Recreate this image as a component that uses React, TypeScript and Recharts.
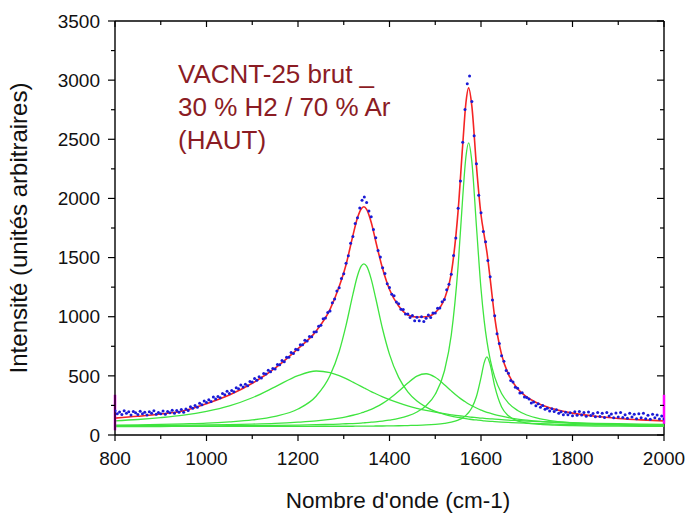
import { ComposedChart, Line, Scatter, XAxis, YAxis, ReferenceLine } from 'recharts';

const FONT = '"Liberation Sans", Arial, sans-serif';

// grid of the fitted curves (cm-1)
const shift = [
  800, 850, 900, 950, 1000, 1050, 1100, 1150, 1200, 1240, 1270, 1290, 1305, 1320, 1330, 1338, 1344,
  1350, 1360, 1370, 1385, 1400, 1420, 1440, 1460, 1480, 1500, 1520, 1535, 1550, 1560, 1567, 1573,
  1580, 1590, 1600, 1607, 1613, 1620, 1630, 1645, 1660, 1680, 1700, 1730, 1760, 1800, 1850, 1900,
  1950, 2000,
];

// cumulative fit (red)
const fitSum = [
  143, 158, 177, 205, 265, 338, 437, 565, 730, 880, 1062, 1255, 1440, 1686, 1836, 1911, 1930,
  1907, 1798, 1636, 1405, 1230, 1090, 1015, 997, 1000, 1035, 1150, 1364, 1897, 2452, 2807, 2935,
  2781, 2276, 1862, 1687, 1544, 1322, 994, 679, 513, 392, 322, 258, 219, 185, 158, 140,
  128, 119,
];

// fitted components (green), baseline included
const peakBroad = [
  120, 131, 147, 168, 200, 246, 315, 407, 502, 541, 528, 502, 476, 447, 427, 411, 399,
  387, 367, 349, 323, 299, 271, 246, 226, 208, 193, 180, 171, 163, 159, 156, 153,
  150, 147, 143, 141, 139, 137, 134, 130, 126, 122, 118, 113, 109, 104, 99, 95,
  92, 90,
];
const peakD = [
  84, 86, 89, 94, 100, 111, 127, 158, 220, 330, 503, 706, 927, 1189, 1346, 1427, 1446,
  1427, 1318, 1154, 894, 682, 487, 365, 287, 236, 200, 175, 160, 149, 142, 138, 135,
  131, 127, 123, 120, 118, 116, 113, 109, 106, 102, 99, 95, 92, 88, 85, 83,
  81, 80,
];
const peak1480 = [
  78, 80, 81, 83, 85, 88, 92, 98, 108, 119, 132, 143, 154, 167, 177, 186, 194,
  202, 217, 235, 267, 306, 369, 439, 498, 518, 488, 425, 373, 324, 295, 277, 262,
  247, 228, 211, 200, 192, 184, 173, 159, 147, 135, 126, 115, 107, 99, 93, 88,
  85, 83,
];
const peakG = [
  75, 75, 76, 76, 77, 78, 79, 81, 84, 87, 90, 92, 95, 97, 99, 101, 103,
  105, 108, 111, 117, 126, 140, 161, 194, 248, 344, 541, 844, 1430, 2008, 2350, 2470,
  2310, 1767, 1236, 965, 791, 639, 489, 351, 270, 207, 169, 137, 118, 103, 93, 87,
  84, 81,
];
const peakDprime = [
  72, 72, 72, 73, 73, 73, 73, 73, 73, 74, 74, 74, 74, 74, 75, 75, 75,
  75, 75, 76, 76, 77, 78, 80, 82, 85, 90, 98, 108, 126, 145, 166, 190,
  230, 325, 485, 612, 660, 596, 413, 237, 162, 120, 102, 89, 83, 79, 76, 75,
  74, 73,
];

// raw spectrum (blue), one point every 5 cm-1 from 800
const rawFrom = 800;
const rawStep = 5;
const rawCounts = [
  204, 179, 195, 174, 206, 183, 196, 170, 198, 188, 173, 201, 179, 193, 170, 196, 183, 205, 175, 191,
  180, 202, 176, 198, 188, 209, 184, 207, 193, 215, 193, 220, 208, 239, 226, 250, 234, 268, 255, 287,
  274,
  298, 284, 322, 304, 325, 314, 350, 341, 369, 351, 377, 365, 400, 391, 423, 406, 428, 417, 453, 449,
  477, 462, 493, 481, 520, 515, 548, 535, 563, 557, 596, 593, 630, 620, 657, 657, 697, 689, 725, 721,
  764, 764, 800, 794, 832, 830, 871, 872,
  920, 927, 982, 990, 1036, 1048, 1118, 1149, 1218, 1245, 1324, 1363, 1452, 1516, 1622, 1678, 1788,
  1837, 1920, 1985, 2012, 1965, 1893, 1846, 1737, 1667, 1560, 1504, 1414, 1365, 1278, 1248, 1190,
  1177, 1125, 1109, 1063, 1060, 1023, 1024,
  994, 1010, 966, 996, 966, 1000, 960, 986, 1014, 994, 1032, 1032, 1072, 1074, 1127, 1145, 1229, 1275,
  1358, 1518, 1665, 1917, 2148, 2474, 2752, 2970, 3035, 2820, 2529, 2294, 2027, 1878, 1721, 1634,
  1475, 1337, 1141, 1008, 855, 774, 671, 623, 546, 521, 461, 449, 404, 396, 356, 358, 322, 316,
  305, 271, 278, 248, 264, 235, 249, 218, 227, 203, 222, 198, 214, 183, 197, 171, 193, 172, 189, 162,
  196, 168, 198, 169, 191, 158, 194, 164, 181, 154, 191, 156, 184, 149, 190, 160, 178, 145, 185, 152,
  190, 147, 171, 141, 184, 152, 176, 138, 179, 146, 183, 138, 167, 134, 175, 146, 169, 135, 160, 135,
];

const xTicks = [800, 900, 1000, 1100, 1200, 1300, 1400, 1500, 1600, 1700, 1800, 1900, 2000];
const yTicks = [0, 250, 500, 750, 1000, 1250, 1500, 1750, 2000, 2250, 2500, 2750, 3000, 3250, 3500];

const PLOT_TOP = 21;
const PLOT_RIGHT = 664;
const GREEN = '#3fe43f';

const fitRows = shift.map((x, i) => ({
  x,
  fit: fitSum[i],
  broad: peakBroad[i],
  d: peakD[i],
  c1480: peak1480[i],
  g: peakG[i],
  d2: peakDprime[i],
}));

const rawRows = rawCounts.map((y, i) => ({ x: rawFrom + i * rawStep, y }));

function XTick({ x, y, payload }: any) {
  const major = payload.value % 200 === 0;
  const len = major ? 6 : 4;
  return (
    <g>
      <line x1={x} y1={y} x2={x} y2={y + len} stroke="#000" strokeWidth={1.2} />
      <line x1={x} y1={PLOT_TOP} x2={x} y2={PLOT_TOP + len} stroke="#000" strokeWidth={1.2} />
      {major && (
        <text x={x} y={y + 30} textAnchor="middle" fontSize={19} fontFamily={FONT} fill="#111">
          {payload.value}
        </text>
      )}
    </g>
  );
}

function YTick({ x, y, payload }: any) {
  const major = payload.value % 500 === 0;
  const len = major ? 7 : 4;
  return (
    <g>
      <line x1={x - len} y1={y} x2={x} y2={y} stroke="#000" strokeWidth={1.2} />
      <line x1={PLOT_RIGHT - len} y1={y} x2={PLOT_RIGHT} y2={y} stroke="#000" strokeWidth={1.2} />
      {major && (
        <text x={x - 15} y={y} dy="0.35em" textAnchor="end" fontSize={19} fontFamily={FONT} fill="#111">
          {payload.value}
        </text>
      )}
    </g>
  );
}

const rawDot = (p: any) => <circle cx={p.cx} cy={p.cy} r={1.5} fill="#1a1ad6" />;

export default function App() {
  return (
    <div style={{ position: 'absolute', left: 0, top: 0, width: 688, height: 517, background: '#fff' }}>
      <ComposedChart
        width={688}
        height={517}
        data={fitRows}
        margin={{ top: 21, right: 24, bottom: 52, left: 55 }}
      >
        <XAxis
          type="number"
          dataKey="x"
          domain={[800, 2000]}
          ticks={xTicks}
          allowDataOverflow
          tickSize={0}
          tickMargin={0}
          tick={XTick}
          axisLine={{ stroke: '#000', strokeWidth: 1.4 }}
          height={30}
        />
        <YAxis
          type="number"
          domain={[0, 3500]}
          ticks={yTicks}
          allowDataOverflow
          tickSize={0}
          tickMargin={0}
          tick={YTick}
          axisLine={{ stroke: '#000', strokeWidth: 1.4 }}
          width={60}
        />
        <ReferenceLine y={3500} stroke="#000" strokeWidth={1.4} />
        <ReferenceLine x={2000} stroke="#000" strokeWidth={1.4} />

        <Line type="monotone" dataKey="broad" stroke={GREEN} strokeWidth={1.3} dot={false} activeDot={false} isAnimationActive={false} />
        <Line type="monotone" dataKey="d" stroke={GREEN} strokeWidth={1.3} dot={false} activeDot={false} isAnimationActive={false} />
        <Line type="monotone" dataKey="c1480" stroke={GREEN} strokeWidth={1.3} dot={false} activeDot={false} isAnimationActive={false} />
        <Line type="monotone" dataKey="g" stroke={GREEN} strokeWidth={1.3} dot={false} activeDot={false} isAnimationActive={false} />
        <Line type="monotone" dataKey="d2" stroke={GREEN} strokeWidth={1.3} dot={false} activeDot={false} isAnimationActive={false} />

        <Scatter data={rawRows} dataKey="y" shape={rawDot} isAnimationActive={false} />
        <Line type="monotone" dataKey="fit" stroke="#f42424" strokeWidth={1.6} dot={false} activeDot={false} isAnimationActive={false} />

        <ReferenceLine ifOverflow="visible" segment={[{ x: 800, y: 40 }, { x: 800, y: 340 }]} stroke="#ff00ff" strokeWidth={2.5} />
        <ReferenceLine ifOverflow="visible" segment={[{ x: 2000, y: 95 }, { x: 2000, y: 340 }]} stroke="#ff00ff" strokeWidth={2.5} />
      </ComposedChart>

      <svg width={688} height={517} style={{ position: 'absolute', left: 0, top: 0, pointerEvents: 'none' }}>
        <g fontFamily={FONT} fontSize={26} fill="#8b1c24">
          <text x={178} y={83}>VACNT-25 brut _</text>
          <text x={178} y={116}>30 % H2 / 70 % Ar</text>
          <text x={178} y={149}>(HAUT)</text>
        </g>
        <text x={398} y={508} textAnchor="middle" fontFamily={FONT} fontSize={22.5} fill="#111">
          Nombre d'onde (cm-1)
        </text>
        <text transform="translate(27,228) rotate(-90)" textAnchor="middle" fontFamily={FONT} fontSize={24} fill="#111">
          Intensité (unités arbitraires)
        </text>
      </svg>
    </div>
  );
}
